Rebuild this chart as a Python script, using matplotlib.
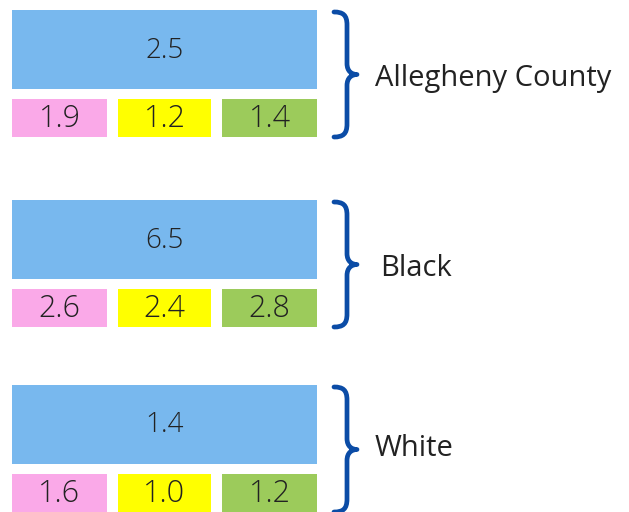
import matplotlib
matplotlib.use("Agg")
import matplotlib.pyplot as plt
from matplotlib.patches import Rectangle, PathPatch
from matplotlib.path import Path

plt.rcParams['font.family'] = ['Open Sans', 'DejaVu Sans']

groups = ["Allegheny County", "Black", "White"]
totals = [2.5, 6.5, 1.4]
sub_a = [1.9, 2.6, 1.6]
sub_b = [1.2, 2.4, 1.0]
sub_c = [1.4, 2.8, 1.2]

blue = "#78B8EE"
sub_colors = ["#FAA9E8", "#FFFF00", "#9CCB5B"]
brace_color = "#0B4CA6"
txt = "#222222"

fig = plt.figure(figsize=(6.29, 5.12), dpi=100)
ax = fig.add_axes([0, 0, 1, 1])
ax.set_xlim(0, 629)
ax.set_ylim(512, 0)
ax.axis("off")

tops = [10, 200, 385]
left, right = 12, 317
big_h = 79
gap = 10
small_h = 38
sub_x = [(12, 107), (118, 211), (222, 317)]
label_x = [375, 380, 375]
label_dy = [4, 4, -1]


def brace(ax, x0, y0, y1):
    mid = (y0 + y1) / 2
    xs = x0 + 13
    tip = x0 + 23
    verts = [
        (x0, y0), (x0 + 9, y0), (xs, y0 + 3), (xs, y0 + 13),
        (xs, mid - 11),
        (xs, mid - 3), (tip - 5, mid), (tip, mid),
        (tip - 5, mid), (xs, mid + 3), (xs, mid + 11),
        (xs, y1 - 13),
        (xs, y1 - 3), (x0 + 9, y1), (x0, y1),
    ]
    codes = [Path.MOVETO, Path.CURVE4, Path.CURVE4, Path.CURVE4,
             Path.LINETO,
             Path.CURVE4, Path.CURVE4, Path.CURVE4,
             Path.CURVE4, Path.CURVE4, Path.CURVE4,
             Path.LINETO,
             Path.CURVE4, Path.CURVE4, Path.CURVE4]
    ax.add_patch(PathPatch(Path(verts, codes), fill=False, lw=3.4,
                           edgecolor=brace_color, capstyle="round",
                           joinstyle="round"))


for i, name in enumerate(groups):
    top = tops[i]
    ax.add_patch(Rectangle((left, top), right - left, big_h, facecolor=blue,
                           edgecolor="none"))
    ax.text((left + right) / 2, top + big_h / 2 + 1, f"{totals[i]:.1f}",
            ha="center", va="center", fontsize=20, color=txt, fontweight="light")
    sy = top + big_h + gap
    for j, vals in enumerate([sub_a, sub_b, sub_c]):
        x0, x1 = sub_x[j]
        ax.add_patch(Rectangle((x0, sy), x1 - x0, small_h,
                               facecolor=sub_colors[j], edgecolor="none"))
        ax.text((x0 + x1) / 2, sy + small_h / 2 + 1, f"{vals[i]:.1f}",
                ha="center", va="center", fontsize=22, color=txt,
                fontweight="light")
    brace(ax, 334, top + 2, sy + small_h)
    mid = (top + 2 + sy + small_h) / 2
    ax.text(label_x[i], mid + label_dy[i], name, ha="left", va="center",
            fontsize=21, color=txt)

fig.savefig("out.png", dpi=100)
